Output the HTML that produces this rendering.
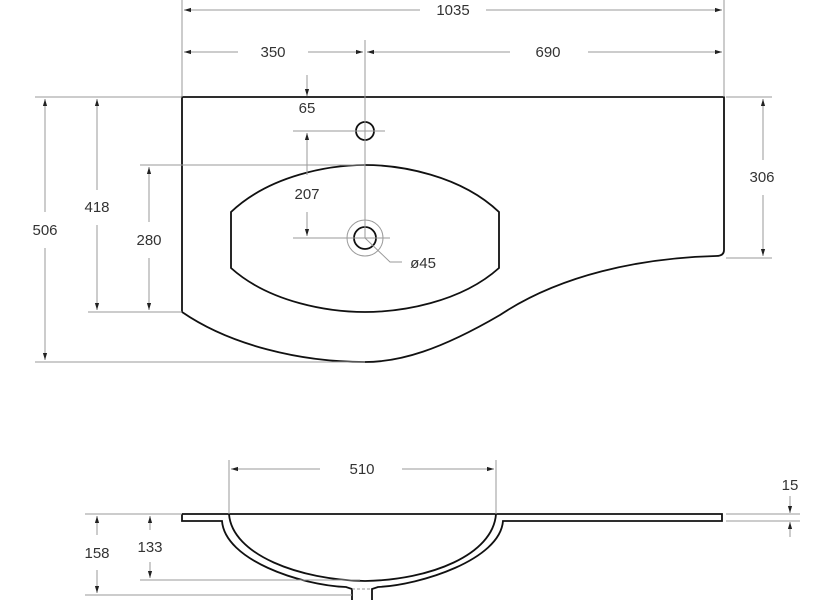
<!DOCTYPE html>
<html><head><style>
html,body{margin:0;padding:0;background:#fff;}
svg{display:block}
text{font-family:"Liberation Sans",sans-serif;font-size:15px;fill:#333;text-anchor:middle}
.d{stroke:#9a9a9a;stroke-width:1;fill:none}
.o{stroke:#111;stroke-width:1.8;fill:none}
</style></head><body>
<svg width="830" height="600" viewBox="0 0 830 600">
<defs>
<marker id="a" viewBox="0 0 10 10" refX="10" refY="5" markerWidth="7" markerHeight="7" orient="auto-start-reverse"><path d="M0,2 L10,5 L0,8 z" fill="#222"/></marker>
</defs>
<!-- top view outline -->
<path class="o" d="M182,97 L724,97 L724,250 Q724,256 716,256 C640,258 560,275 500,315 C440,350 400,362 365,362 C300,362 230,345 182,312 Z"/>
<path class="o" d="M231,212 C270,175 330,165 365,165 C400,165 460,175 499,212 L499,268 C460,303 400,312 365,312 C330,312 270,303 231,268 Z"/>
<circle class="o" cx="365" cy="131" r="9" stroke-width="1.5"/>
<circle class="o" cx="365" cy="238" r="11" stroke-width="2"/>
<circle class="d" cx="365" cy="238" r="18" stroke="#555"/>
<!-- dims top -->
<line class="d" x1="182" y1="0" x2="182" y2="97"/>
<line class="d" x1="724" y1="0" x2="724" y2="97"/>
<line class="d" x1="365" y1="40" x2="365" y2="238"/>
<line class="d" x1="184" y1="10" x2="420" y2="10" marker-start="url(#a)"/>
<line class="d" x1="486" y1="10" x2="722" y2="10" marker-end="url(#a)"/>
<text x="453" y="15">1035</text>
<line class="d" x1="184" y1="52" x2="238" y2="52" marker-start="url(#a)"/>
<line class="d" x1="308" y1="52" x2="363" y2="52" marker-end="url(#a)"/>
<text x="273" y="57">350</text>
<line class="d" x1="367" y1="52" x2="510" y2="52" marker-start="url(#a)"/>
<line class="d" x1="588" y1="52" x2="722" y2="52" marker-end="url(#a)"/>
<text x="548" y="57">690</text>
<line class="d" x1="307" y1="75" x2="307" y2="96" marker-end="url(#a)"/>
<text x="307" y="113">65</text>
<line class="d" x1="293" y1="131" x2="385" y2="131"/>
<line class="d" x1="293" y1="238" x2="390" y2="238"/>
<line class="d" x1="307" y1="133" x2="307" y2="175" marker-start="url(#a)"/>
<line class="d" x1="307" y1="212" x2="307" y2="236" marker-end="url(#a)"/>
<text x="307" y="199">207</text>
<path class="d" d="M365,238 L390,262 L402,262" stroke="#555"/>
<text x="423" y="268">ø45</text>
<line class="d" x1="35" y1="97" x2="182" y2="97"/>
<line class="d" x1="140" y1="165" x2="365" y2="165"/>
<line class="d" x1="88" y1="312" x2="182" y2="312"/>
<line class="d" x1="35" y1="362" x2="365" y2="362"/>
<line class="d" x1="45" y1="99" x2="45" y2="212" marker-start="url(#a)"/>
<line class="d" x1="45" y1="248" x2="45" y2="360" marker-end="url(#a)"/>
<text x="45" y="235">506</text>
<line class="d" x1="97" y1="99" x2="97" y2="190" marker-start="url(#a)"/>
<line class="d" x1="97" y1="225" x2="97" y2="310" marker-end="url(#a)"/>
<text x="97" y="212">418</text>
<line class="d" x1="149" y1="167" x2="149" y2="222" marker-start="url(#a)"/>
<line class="d" x1="149" y1="258" x2="149" y2="310" marker-end="url(#a)"/>
<text x="149" y="245">280</text>
<line class="d" x1="726" y1="97" x2="772" y2="97"/>
<line class="d" x1="726" y1="258" x2="772" y2="258"/>
<line class="d" x1="763" y1="99" x2="763" y2="160" marker-start="url(#a)"/>
<line class="d" x1="763" y1="195" x2="763" y2="256" marker-end="url(#a)"/>
<text x="762" y="182">306</text>
<!-- side view -->
<path class="o" d="M182,514 L722,514 L722,521 L503,521 C500,560 420,585 378,587 L372,589 L372,600"/>
<path class="o" d="M352,600 L352,589 L346,587 C300,585 225,560 222,521 L182,521 L182,514"/>
<path class="o" d="M229,514 C232,555 300,580 365,581 C430,580 493,555 496,514"/>
<line class="d" x1="352" y1="589" x2="372" y2="589" stroke-dasharray="3,2"/>
<line class="d" x1="229" y1="460" x2="229" y2="514"/>
<line class="d" x1="496" y1="460" x2="496" y2="514"/>
<line class="d" x1="231" y1="469" x2="320" y2="469" marker-start="url(#a)"/>
<line class="d" x1="402" y1="469" x2="494" y2="469" marker-end="url(#a)"/>
<text x="362" y="474">510</text>
<line class="d" x1="85" y1="514" x2="182" y2="514"/>
<line class="d" x1="140" y1="580" x2="360" y2="580"/>
<line class="d" x1="85" y1="595" x2="352" y2="595"/>
<line class="d" x1="97" y1="516" x2="97" y2="535" marker-start="url(#a)"/>
<line class="d" x1="97" y1="570" x2="97" y2="593" marker-end="url(#a)"/>
<text x="97" y="558">158</text>
<line class="d" x1="150" y1="516" x2="150" y2="530" marker-start="url(#a)"/>
<line class="d" x1="150" y1="562" x2="150" y2="578" marker-end="url(#a)"/>
<text x="150" y="552">133</text>
<line class="d" x1="726" y1="514" x2="800" y2="514"/>
<line class="d" x1="726" y1="521" x2="800" y2="521"/>
<line class="d" x1="790" y1="496" x2="790" y2="513" marker-end="url(#a)"/>
<line class="d" x1="790" y1="537" x2="790" y2="522" marker-end="url(#a)"/>
<text x="790" y="490">15</text>
</svg>
</body></html>
